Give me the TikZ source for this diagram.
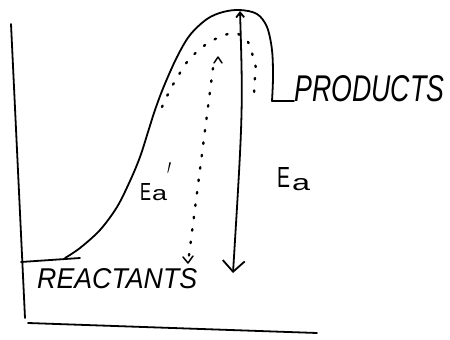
\documentclass[tikz,border=0pt]{standalone}
\usepackage{fontspec}
\setmainfont{Liberation Sans}
\usetikzlibrary{arrows.meta,calc}
\begin{document}
\begin{tikzpicture}[x=1pt,y=-1pt,
  ink/.style={line width=1.8pt,line cap=round,line join=round},
  dots/.style={line width=2.4pt,line cap=round,dash pattern=on 1.5pt off 11pt},
  lbl/.style={inner sep=0pt,font=\itshape},
  elbl/.style={inner sep=0pt}]
\useasboundingbox[fill=white] (0,0) rectangle (450,340);
% axes
\coordinate (ytop) at (11,24);
\coordinate (orig) at (25,318);
\coordinate (bstart) at (28,323);
\coordinate (xend) at (317,333);
\draw[ink] (ytop) -- (orig);
\draw[ink] (bstart) -- (xend);
% levels
\coordinate (r0) at (21,262);
\coordinate (r1) at (80,258);
\draw[ink] (r0) -- (r1);
\node[lbl,anchor=base west] (prod) at (294,101) {\resizebox{150pt}{26pt}{PRODUCTS}};
\node[lbl,anchor=base west] (reac) at (37,288) {\resizebox{160pt}{20pt}{REACTANTS}};
% energy curve
\coordinate (cstart) at (65,258);
\coordinate (cend) at (272,101);
\draw[ink] plot[smooth,tension=0.55] coordinates {(cstart) (80,248) (100,230) (117,207) (130,181) (140,157) (148,132) (155,110) (164,86) (177,57) (190,35) (207,19) (223,12) (240,10) (257,14) (267,27) (272,50) (273,77) (cend)};
\draw[ink] (cend) -- (prod.base west);
% catalysed (dotted) curve
\draw[dots] plot[smooth,tension=0.6] coordinates {(162,107) (170,90) (177,78) (187,62) (200,49) (210,42) (220,37) (235,33) (248,42) (253,57) (256,70) (254,85) (255,101)};
% arrows
\coordinate (at) at (240,11);
\coordinate (ab) at (233,273);
\draw[ink,{Straight Barb[length=5pt,width=8pt]}-{Straight Barb[length=11pt,width=22pt]}] (at) .. controls (243,110) .. (ab);
\coordinate (dt) at (218,57);
\coordinate (db) at (188,263);
\draw[dots] (213,68) -- (db);
\draw[ink,line width=1.5pt] ($(dt)+(-4,6)$) -- (dt) -- ($(dt)+(4,6)$);
\draw[ink,line width=1.5pt] ($(db)+(-5,-6)$) -- (db) -- ($(db)+(5,-7)$);
% labels
\node[elbl,anchor=base west] (ea) at (277,187) {\resizebox{13pt}{20pt}{E}\hspace{2pt}\raisebox{-3pt}{\resizebox{18pt}{12pt}{a}}};
\node[elbl,anchor=base west] (eap) at (140,200) {\resizebox{11pt}{17pt}{E}\hspace{1pt}\resizebox{15pt}{11pt}{a}\raisebox{26pt}{\resizebox{4pt}{12pt}{$\prime$}}};
\end{tikzpicture}
\end{document}
